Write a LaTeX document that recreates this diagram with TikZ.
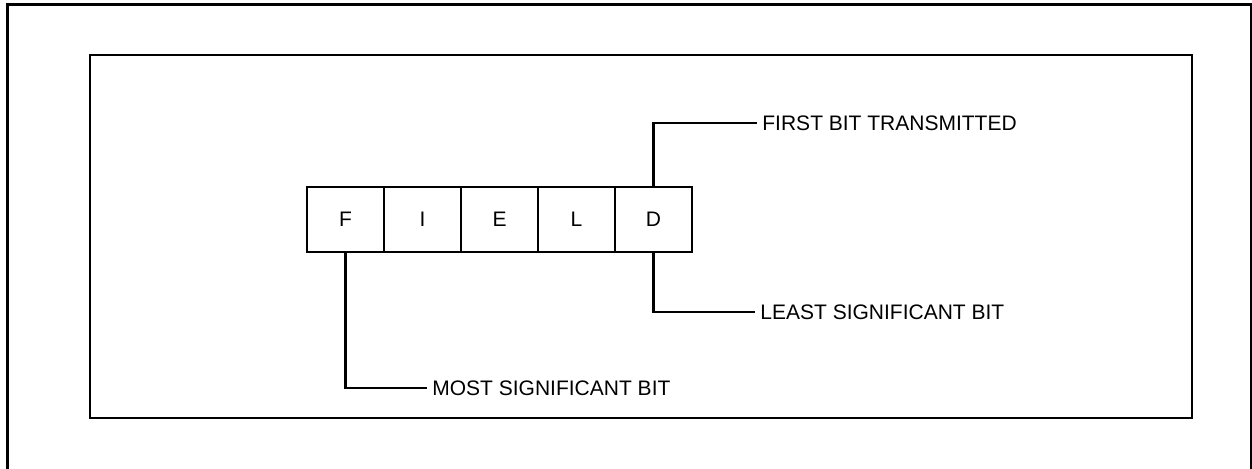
\documentclass[tikz,border=0pt]{standalone}
\usepackage{fontspec}
\setmainfont{Liberation Sans}
\usepackage{tikz}
\usetikzlibrary{positioning}

\begin{document}
\begin{tikzpicture}[
  x=0.5pt, y=-0.5pt,
  node distance=0pt,
  every node/.style={font=\fontsize{10.5}{12}\selectfont},
  bitbox/.style={rectangle, draw, line width=0.9pt, inner sep=0pt, outer sep=0pt,
    minimum width=38.5pt, minimum height=32.5pt, text centered},
  tag/.style={anchor=west, inner sep=2.5pt},
  leader/.style={line width=1.1pt}
]
  \useasboundingbox (0,0) rectangle (1252,469);

  % frames
  \draw[line width=1.5pt] (7,469) -- (7,5) -- (1251,5) -- (1251,469);
  \draw[line width=1.2pt] (90,55) rectangle (1192,418);

  % the field, one box per letter
  \node[bitbox, anchor=north west] (f) at (307,187) {F};
  \node[bitbox, right=of f] (i) {I};
  \node[bitbox, right=of i] (e) {E};
  \node[bitbox, right=of e] (l) {L};
  \node[bitbox, right=of l] (d) {D};

  % labels
  \node[tag] (first) at (757,123) {FIRST BIT TRANSMITTED};
  \node[tag] (lsb) at (755,312) {LEAST SIGNIFICANT BIT};
  \node[tag] (msb) at (427,388) {MOST SIGNIFICANT BIT};

  \draw[leader] (d.north) |- (first.west);
  \draw[leader] (d.south) |- (lsb.west);
  \draw[leader] (f.south) |- (msb.west);
\end{tikzpicture}
\end{document}
